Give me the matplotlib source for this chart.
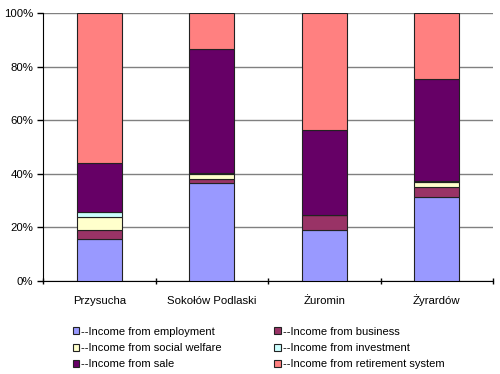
import matplotlib
matplotlib.use('Agg')
import matplotlib.pyplot as plt
from matplotlib.patches import Patch
from matplotlib.ticker import FuncFormatter

# data (share of income, %)
regions = ['Przysucha', 'Sokołów Podlaski', 'Żuromin', 'Żyrardów']
employment = [15.6, 36.4, 18.9, 31.2]
business = [3.4, 1.5, 5.8, 4.0]
welfare = [4.8, 1.9, 0.0, 1.9]
investment = [1.8, 0.3, 0.0, 0.3]
sale = [18.3, 46.5, 31.6, 38.0]
retirement = [56.1, 13.4, 43.7, 24.6]

series = [
    ('--Income from employment', employment, '#9999FF'),
    ('--Income from business', business, '#993366'),
    ('--Income from social welfare', welfare, '#FFFFCC'),
    ('--Income from investment', investment, '#CCFFFF'),
    ('--Income from sale', sale, '#660066'),
    ('--Income from retirement system', retirement, '#FF8080'),
]

plt.rcParams['font.family'] = ['Liberation Sans', 'DejaVu Sans']

fig = plt.figure(figsize=(5.0, 3.74), dpi=100)
ax = fig.add_axes([0.086, 0.249, 0.9, 0.716])

x = list(range(len(regions)))
bottom = [0.0] * len(regions)
for name, vals, col in series:
    ax.bar(x, vals, width=0.4, bottom=bottom, color=col,
           edgecolor='#222222', linewidth=0.8, zorder=3)
    bottom = [b + v for b, v in zip(bottom, vals)]

ax.set_xlim(-0.5, len(regions) - 0.5)
ax.set_ylim(0, 100)
ax.set_yticks(range(0, 101, 20))
ax.yaxis.set_major_formatter(FuncFormatter(lambda v, p: f'{int(v)}%'))
ax.grid(axis='y', color='#808080', linewidth=1.0, zorder=0)

ax.set_xticks(x)
ax.set_xticklabels(regions)
for lab in ax.get_xticklabels():
    lab.set_va('baseline')
ax.set_xticks([i - 0.5 for i in range(len(regions) + 1)], minor=True)
ax.tick_params(axis='x', which='major', length=0, pad=17, labelsize=8.2)
ax.tick_params(axis='x', which='minor', length=4, direction='inout', width=1)
ax.tick_params(axis='y', length=4, width=1, labelsize=8.2, pad=3)

for s in ['top', 'right']:
    ax.spines[s].set_visible(False)
ax.spines['left'].set_color('black')
ax.spines['bottom'].set_color('black')

handles = [Patch(facecolor=col, edgecolor='#222222', linewidth=0.8, label=name)
           for name, vals, col in series]
# order so that columns read: employment/welfare/sale | business/investment/retirement
order = [0, 2, 4, 1, 3, 5]
fig.legend([handles[i] for i in order], [series[i][0] for i in order],
           ncol=2, loc='upper left', bbox_to_anchor=(0.145, 0.126),
           frameon=False, fontsize=8, handlelength=0.6, handleheight=0.6,
           handletextpad=0.2, columnspacing=4.7, labelspacing=0.55,
           borderpad=0, borderaxespad=0)

fig.savefig('out.png', dpi=100)
